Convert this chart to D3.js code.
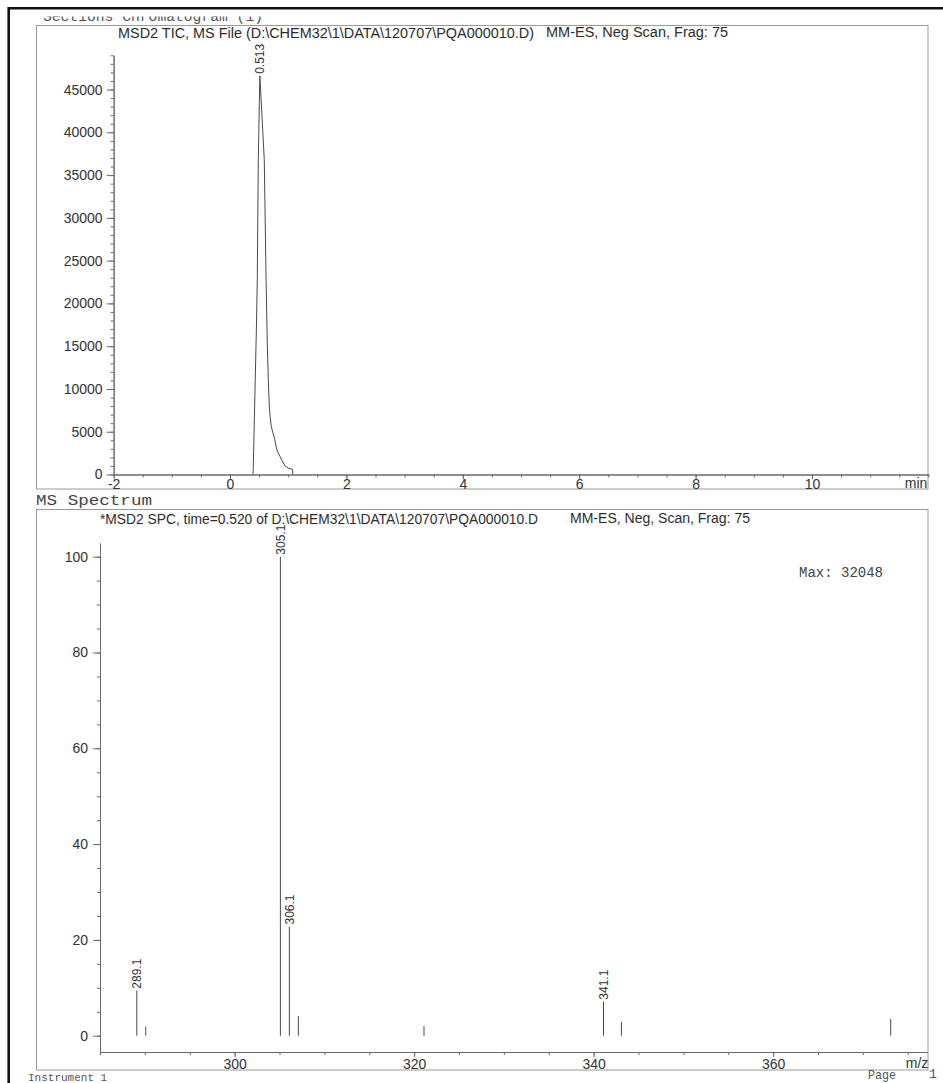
<!DOCTYPE html>
<html>
<head>
<meta charset="utf-8">
<script src="https://cdn.jsdelivr.net/npm/d3@7"></script>
<style>
  html, body { margin: 0; padding: 0; background: #ffffff; }
  svg { display: block; }
  .tick text { font-family: "Liberation Sans", Arial, sans-serif; font-size: 14px; fill: #333; }
</style>
</head>
<body>
<svg id="page" width="943" height="1083"></svg>
<script>
// ---- TIC chromatogram (retention time in min, abundance in counts) ----
const ticTime      = [0.395, 0.40, 0.43, 0.455, 0.469, 0.486, 0.513, 0.589, 0.62, 0.64, 0.658, 0.675, 0.69, 0.71, 0.74, 0.77, 0.80, 0.83, 0.89, 0.945, 1.00, 1.075, 1.08];
const ticAbundance = [0, 800, 10000, 17500, 22800, 36800, 46600, 36800, 22800, 15500, 11100, 8000, 6700, 5600, 4800, 4100, 3000, 2500, 1700, 1000, 750, 600, 0];
const ticPeakTime  = 0.513;
const ticPeakLabel = "0.513";
const ticYTicks    = [0, 5000, 10000, 15000, 20000, 25000, 30000, 35000, 40000, 45000];
const ticXTicks    = [-2, 0, 2, 4, 6, 8, 10];

// ---- Mass spectrum at 0.520 min (m/z, relative abundance %) ----
const specMz        = [289.1, 290.1, 305.1, 306.1, 307.1, 321.1, 341.1, 343.1, 373.1];
const specAbundance = [9.4, 1.9, 100, 22.8, 4.1, 2.0, 7.1, 2.9, 3.5];
const specLabeled   = ["289.1", "305.1", "306.1", "341.1"];
const specYTicks    = [0, 20, 40, 60, 80, 100];
const specXTicks    = [300, 320, 340, 360];
const specMax       = 32048;

// ---- Text ----
const pageHeading  = "Sections Chromatogram (1)";
const ticTitleA    = "MSD2 TIC, MS File (D:\\CHEM32\\1\\DATA\\120707\\PQA000010.D)";
const ticTitleB    = "MM-ES, Neg  Scan, Frag: 75";
const specHeading  = "MS Spectrum";
const specTitleA   = "*MSD2 SPC, time=0.520 of D:\\CHEM32\\1\\DATA\\120707\\PQA000010.D";
const specTitleB   = "MM-ES, Neg, Scan, Frag: 75";
const footerLeft   = "Instrument 1";
const footerRight  = "Page";
const footerPage   = "1";

const svg = d3.select("#page");
const sans = '"Liberation Sans", Arial, sans-serif';
const mono = '"Liberation Mono", "Courier New", monospace';
const axisColor = "#6a6a6a", traceColor = "#4a4a4a", frameColor = "#9a9a9a", textColor = "#2c2c2c";
const plain = d => String(d);

const defs = svg.append("defs");
defs.append("clipPath").attr("id", "clipHead").append("rect").attr("x", 10).attr("y", 16.5).attr("width", 900).attr("height", 8);

// Outer page border (left + top edges)
svg.append("path").attr("d", "M8.7,1083V8.3H943")
  .attr("fill", "none").attr("stroke", "#111").attr("stroke-width", 2.6);

// Page heading line, partly hidden under the top margin
svg.append("text").attr("x", 43).attr("y", 20.5).attr("clip-path", "url(#clipHead)")
  .attr("font-family", mono).attr("font-size", 14).attr("fill", "#555")
  .attr("textLength", 220).attr("lengthAdjust", "spacingAndGlyphs").text(pageHeading);

// Panel frames
svg.append("rect").attr("x", 36.5).attr("y", 25.5).attr("width", 891.5).attr("height", 463.5)
  .attr("fill", "none").attr("stroke", frameColor);
svg.append("rect").attr("x", 36.5).attr("y", 509.5).attr("width", 891.5).attr("height", 560.5)
  .attr("fill", "none").attr("stroke", frameColor);

function styleAxis(g) {
  g.select(".domain").attr("stroke", axisColor);
  g.selectAll(".tick line").attr("stroke", axisColor);
}

// ================= TIC panel =================
const xT = d3.scaleLinear().domain([-2, 12]).range([113.6, 928.4]);
const yT = d3.scaleLinear().domain([0, 49000]).range([474.5, 55.3]);

svg.append("text").attr("x", 118).attr("y", 37.5).attr("font-family", sans).attr("font-size", 14)
  .attr("fill", textColor).attr("textLength", 416).attr("lengthAdjust", "spacingAndGlyphs").text(ticTitleA);
svg.append("text").attr("x", 546).attr("y", 36.5).attr("font-family", sans).attr("font-size", 14)
  .attr("fill", textColor).attr("textLength", 182).attr("lengthAdjust", "spacingAndGlyphs").text(ticTitleB);

// y axis: minor ticks every 1000, major every 5000
svg.append("g").attr("transform", `translate(${xT(-2)},0)`)
  .call(d3.axisLeft(yT).tickValues(d3.range(0, 49001, 1000)).tickSize(3).tickFormat("").tickSizeOuter(0))
  .call(styleAxis);
svg.append("g").attr("transform", `translate(${xT(-2)},0)`)
  .call(d3.axisLeft(yT).tickValues(ticYTicks).tickSize(7).tickPadding(4).tickSizeOuter(0).tickFormat(plain))
  .call(styleAxis);

// x axis: minor ticks every 0.5 min, major every 2 min
svg.append("g").attr("transform", `translate(0,${yT(0)})`)
  .call(d3.axisBottom(xT).tickValues(d3.range(-2, 12.01, 0.5)).tickSize(3).tickFormat("").tickSizeOuter(0))
  .call(styleAxis);
const gxT = svg.append("g").attr("transform", `translate(0,${yT(0)})`)
  .call(d3.axisBottom(xT).tickValues(ticXTicks).tickSize(5).tickSizeOuter(0).tickFormat(plain))
  .call(styleAxis);
gxT.selectAll(".tick text").attr("y", 0).attr("dy", 14);

svg.append("text").attr("x", 916).attr("y", 488).attr("text-anchor", "middle")
  .attr("font-family", sans).attr("font-size", 14).attr("fill", "#333").text("min");

// trace
const ticPoints = ticTime.map((t, i) => [t, ticAbundance[i]]);
svg.append("path").datum(ticPoints)
  .attr("d", d3.line().x(d => xT(d[0])).y(d => yT(d[1])))
  .attr("fill", "none").attr("stroke", traceColor).attr("stroke-width", 1);

// peak retention-time label
const apexIdx = ticTime.indexOf(ticPeakTime);
svg.append("text")
  .attr("transform", `translate(${xT(ticPeakTime)},${yT(ticAbundance[apexIdx]) - 2}) rotate(-90)`)
  .attr("dy", "0.35em").attr("font-family", sans).attr("font-size", 12).attr("fill", "#333")
  .text(ticPeakLabel);

// ================= Spectrum panel =================
svg.append("text").attr("x", 36).attr("y", 505).attr("font-family", mono).attr("font-size", 14)
  .attr("fill", "#444").attr("textLength", 116).attr("lengthAdjust", "spacingAndGlyphs").text(specHeading);

svg.append("text").attr("x", 100).attr("y", 523.5).attr("font-family", sans).attr("font-size", 14)
  .attr("fill", textColor).attr("textLength", 438).attr("lengthAdjust", "spacingAndGlyphs").text(specTitleA);
svg.append("text").attr("x", 570).attr("y", 523).attr("font-family", sans).attr("font-size", 14)
  .attr("fill", textColor).attr("textLength", 180).attr("lengthAdjust", "spacingAndGlyphs").text(specTitleB);

const xS = d3.scaleLinear().domain([285, 377.2]).range([100, 927.5]);
const yS = d3.scaleLinear().domain([0, 100]).range([1035.7, 556.7]);
const yAxisS = d3.scaleLinear().domain([yS.invert(1052), yS.invert(543)]).range([1052, 543]);

// y axis: minor every 5, major every 20
svg.append("g").attr("transform", `translate(${xS(285)},0)`)
  .call(d3.axisLeft(yAxisS).tickValues(d3.range(0, 101, 5)).tickSize(3).tickFormat("").tickSizeOuter(0))
  .call(styleAxis);
svg.append("g").attr("transform", `translate(${xS(285)},0)`)
  .call(d3.axisLeft(yAxisS).tickValues(specYTicks).tickSize(7).tickPadding(5).tickSizeOuter(0).tickFormat(plain))
  .call(styleAxis);

// x axis: minor every 5, major every 20
svg.append("g").attr("transform", "translate(0,1052)")
  .call(d3.axisBottom(xS).tickValues(d3.range(285, 377.3, 5)).tickSize(3).tickFormat("").tickSizeOuter(0))
  .call(styleAxis);
const gxS = svg.append("g").attr("transform", "translate(0,1052)")
  .call(d3.axisBottom(xS).tickValues(specXTicks).tickSize(5).tickSizeOuter(0).tickFormat(plain))
  .call(styleAxis);
gxS.selectAll(".tick text").attr("y", 0).attr("dy", 16.5);

svg.append("text").attr("x", 917).attr("y", 1068).attr("text-anchor", "middle")
  .attr("font-family", sans).attr("font-size", 14).attr("fill", "#333").text("m/z");

// spectrum sticks
const sticks = specMz.map((m, i) => ({ mz: m, ab: specAbundance[i] }));
svg.append("g").selectAll("line").data(sticks).join("line")
  .attr("x1", d => xS(d.mz)).attr("x2", d => xS(d.mz))
  .attr("y1", yS(0)).attr("y2", d => yS(d.ab))
  .attr("stroke", traceColor).attr("stroke-width", 1);

// m/z labels on the main ions
svg.append("g").selectAll("text").data(sticks.filter(d => specLabeled.includes(d.mz.toFixed(1)))).join("text")
  .attr("transform", d => `translate(${xS(d.mz)},${yS(d.ab) - 2}) rotate(-90)`)
  .attr("dy", "0.35em").attr("font-family", sans).attr("font-size", 12).attr("fill", "#333")
  .text(d => d.mz.toFixed(1));

svg.append("text").attr("x", 799).attr("y", 577).attr("font-family", mono).attr("font-size", 14)
  .attr("fill", "#444").attr("textLength", 84).attr("lengthAdjust", "spacingAndGlyphs")
  .text("Max: " + specMax);

// ---- footer line ----
svg.append("text").attr("x", 28).attr("y", 1081)
  .attr("font-family", mono).attr("font-size", 11).attr("fill", "#555").text(footerLeft);
svg.append("text").attr("x", 868).attr("y", 1079).attr("font-family", mono).attr("font-size", 13)
  .attr("fill", "#555").attr("textLength", 28).attr("lengthAdjust", "spacingAndGlyphs").text(footerRight);
svg.append("text").attr("x", 929).attr("y", 1078).attr("font-family", mono).attr("font-size", 13)
  .attr("fill", "#555").text(footerPage);
</script>
</body>
</html>
